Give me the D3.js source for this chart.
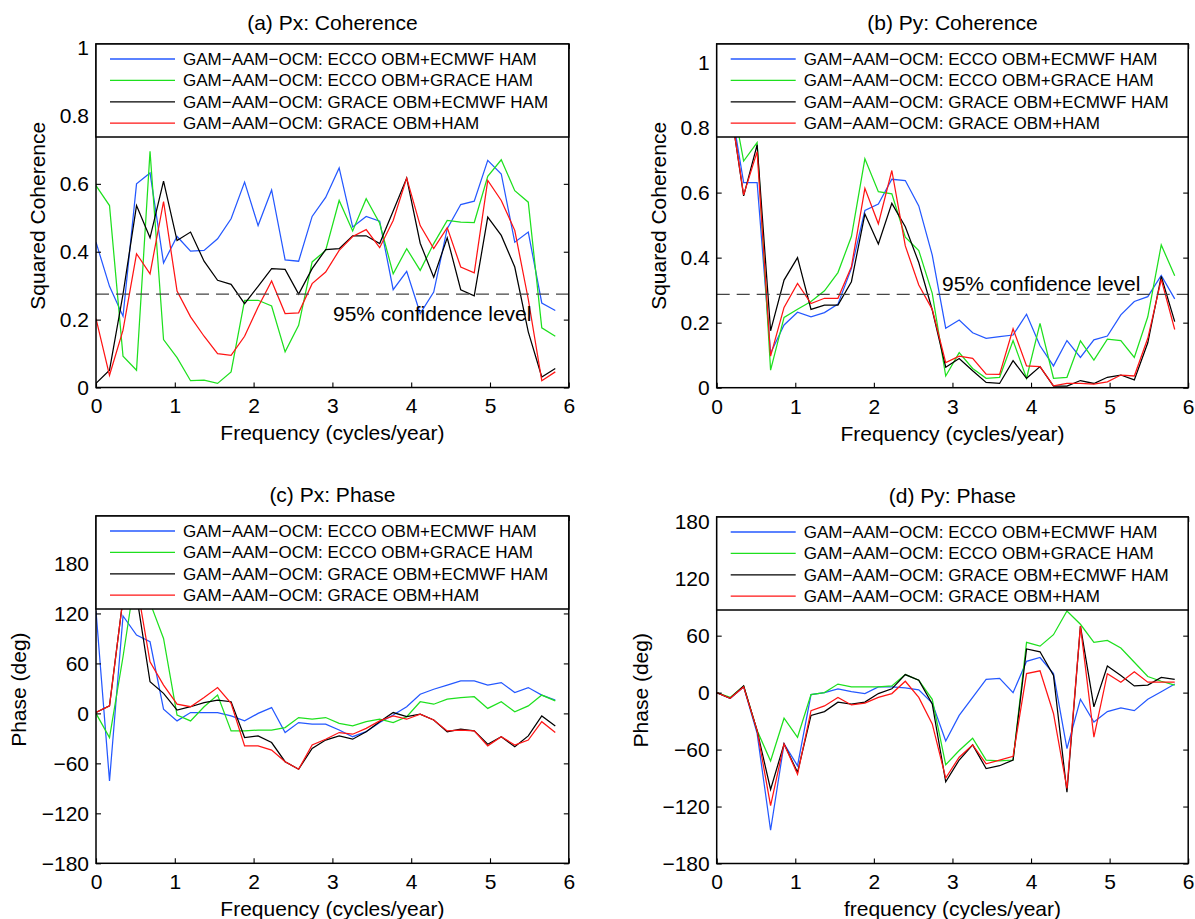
<!DOCTYPE html>
<html>
<head>
<meta charset="utf-8">
<script src="https://cdn.jsdelivr.net/npm/d3@7"></script>
<style>
  body { margin: 0; background: #fff; }
  svg { display: block; font-family: "Liberation Sans", Arial, Helvetica, sans-serif; }
</style>
</head>
<body>
<svg id="chart" width="1195" height="919"></svg>
<script>
// frequency axis (cycles/year), shared by all four panels
var freq = [0, 0.1714, 0.3429, 0.5143, 0.6857, 0.8571, 1.0286, 1.2, 1.3714, 1.5429,
            1.7143, 1.8857, 2.0571, 2.2286, 2.4, 2.5714, 2.7429, 2.9143, 3.0857, 3.2571,
            3.4286, 3.6, 3.7714, 3.9429, 4.1143, 4.2857, 4.4571, 4.6286, 4.8, 4.9714,
            5.1429, 5.3143, 5.4857, 5.6571, 5.8286];

var seriesNames = [
  "GAM\u2212AAM\u2212OCM: ECCO OBM+ECMWF HAM",
  "GAM\u2212AAM\u2212OCM: ECCO OBM+GRACE HAM",
  "GAM\u2212AAM\u2212OCM: GRACE OBM+ECMWF HAM",
  "GAM\u2212AAM\u2212OCM: GRACE OBM+HAM"
];
var seriesColors = ["#2458ff", "#1ee01e", "#000000", "#ff1414"];

// (a) Px coherence
var pxCohBlue  = [0.428,0.298,0.21,0.60,0.632,0.367,0.445,0.402,0.404,0.438,0.497,0.605,0.477,0.582,0.376,0.372,0.504,0.56,
                  0.647,0.473,0.504,0.49,0.288,0.342,0.218,0.281,0.468,0.539,0.549,0.669,0.629,0.428,0.458,0.249,0.227];
var pxCohGreen = [0.595,0.536,0.092,0.051,0.696,0.141,0.088,0.02,0.022,0.012,0.046,0.257,0.257,0.24,0.105,0.183,0.37,0.404,
                  0.551,0.461,0.556,0.484,0.335,0.409,0.345,0.424,0.492,0.487,0.486,0.622,0.671,0.58,0.546,0.176,0.151];
var pxCohBlack = [0.012,0.051,0.275,0.536,0.441,0.608,0.433,0.458,0.372,0.316,0.304,0.247,0.298,0.35,0.348,0.275,0.35,0.406,
                  0.409,0.447,0.447,0.424,0.52,0.617,0.425,0.325,0.441,0.288,0.27,0.502,0.448,0.355,0.164,0.031,0.056];
var pxCohRed   = [0.203,0.036,0.169,0.394,0.335,0.548,0.284,0.208,0.151,0.1,0.095,0.151,0.237,0.314,0.218,0.22,0.306,0.34,
                  0.404,0.445,0.465,0.412,0.492,0.617,0.477,0.409,0.471,0.355,0.338,0.61,0.551,0.463,0.26,0.02,0.046];

// (b) Py coherence
var pyCohBlue  = [0.93,0.88,0.631,0.631,0.106,0.193,0.232,0.218,0.231,0.257,0.367,0.545,0.565,0.641,0.637,0.559,0.408,0.183,
                  0.208,0.169,0.152,0.157,0.162,0.226,0.129,0.067,0.145,0.093,0.147,0.159,0.224,0.265,0.28,0.345,0.273];
var pyCohGreen = [0.95,0.92,0.697,0.754,0.054,0.216,0.241,0.265,0.298,0.354,0.465,0.704,0.603,0.596,0.463,0.422,0.29,0.036,
                  0.108,0.059,0.029,0.032,0.145,0.029,0.198,0.029,0.032,0.144,0.085,0.149,0.145,0.093,0.218,0.439,0.344];
var pyCohBlack = [0.92,0.87,0.59,0.747,0.175,0.331,0.40,0.241,0.254,0.254,0.326,0.534,0.442,0.567,0.495,0.385,0.239,0.063,
                  0.09,0.052,0.016,0.013,0.083,0.029,0.065,0.005,0.005,0.022,0.013,0.032,0.039,0.024,0.138,0.342,0.203];
var pyCohRed   = [0.92,0.87,0.593,0.726,0.097,0.247,0.321,0.259,0.275,0.275,0.372,0.613,0.504,0.668,0.436,0.316,0.241,0.077,
                  0.097,0.09,0.042,0.041,0.181,0.067,0.065,0.006,0.013,0.013,0.011,0.018,0.039,0.036,0.152,0.333,0.179];

// (c) Px phase (deg)
var pxPhBlue  = [123,-81,117,94,86,5,-9,1,1,1,-3,-9,0,7,-23,-11,-13,-13,-20,-28,-22,-11,-2,8,23,29,34,39,39,34,37,25,31,22,16];
var pxPhGreen = [0,-29,68,175,133,90,-2,-9,8,22,-21,-21,-20,-20,-17,-5,-7,-5,-12,-15,-10,-7,-11,-4,14,11,17,19,20,6,14,2,9,22,15];
var pxPhBlack = [1,9,138,142,38,24,4,8,13,16,14,-29,-27,-35,-58,-67,-42,-32,-27,-31,-22,-10,1,-4,-1,-8,-22,-19,-21,-37,-28,-40,-27,-3,-15];
var pxPhRed   = [1,9,138,157,62,34,11,8,19,31,12,-39,-39,-44,-58,-67,-38,-31,-23,-25,-18,-9,-3,-7,-1,-8,-21,-20,-21,-39,-28,-38,-32,-10,-23];

// (d) Py phase (deg)
var pyPhBlue  = [0,-6,6,-43,-145,-54,-77,-2,0,4,1,-1,6,6,5,3,-11,-51,-24,-5,14,15,0,33,37,20,-59,-7,-31,-20,-16,-19,-7,1,9];
var pyPhGreen = [0,-5,7,-40,-72,-27,-47,-2,0,9,6,6,6,7,19,13,-7,-76,-61,-48,-71,-72,-71,53,49,61,86,72,53,55,47,32,17,12,8];
var pyPhBlack = [0,-6,7,-40,-102,-54,-84,-24,-20,-10,-12,-10,-1,4,19,13,-12,-94,-71,-55,-80,-77,-71,46,43,18,-105,70,-15,28,18,7,8,16,14];
var pyPhRed   = [0,-6,6,-40,-119,-54,-86,-19,-14,-5,-13,-11,-5,-1,12,-5,-33,-90,-68,-55,-75,-71,-67,20,23,-22,-101,70,-47,20,11,22,11,11,11];

var xTicks = [0, 1, 2, 3, 4, 5, 6];
var cohTicks = [0, 0.2, 0.4, 0.6, 0.8, 1];
var phaseTicks = [-180, -120, -60, 0, 60, 120, 180];

var confLevelPx = 0.275;
var confLevelPy = 0.287;
var confLabel = "95% confidence level";

var svg = d3.select("#chart");
svg.append("rect").attr("width", 1195).attr("height", 919).attr("fill", "#fff");

var panels = [
  { id: "a", title: "(a) Px: Coherence", series: [pxCohBlue, pxCohGreen, pxCohBlack, pxCohRed],
    left: 96, right: 568.8, top: 44, bottom: 387.5, ydom: [0, 1.012], yticks: cohTicks,
    ylabel: "Squared Coherence", ylabelX: 38, xlabel: "Frequency (cycles/year)",
    conf: confLevelPx, confX: 333, confY: 320.5 },
  { id: "b", title: "(b) Py: Coherence", series: [pyCohBlue, pyCohGreen, pyCohBlack, pyCohRed],
    left: 716.7, right: 1188.2, top: 44, bottom: 387.7, ydom: [0, 1.057], yticks: cohTicks,
    ylabel: "Squared Coherence", ylabelX: 659, xlabel: "Frequency (cycles/year)",
    conf: confLevelPy, confX: 942, confY: 290.5 },
  { id: "c", title: "(c) Px: Phase", series: [pxPhBlue, pxPhGreen, pxPhBlack, pxPhRed],
    left: 96, right: 568.8, top: 516, bottom: 863.3, ydom: [-180, 237], yticks: phaseTicks,
    ylabel: "Phase (deg)", ylabelX: 19, xlabel: "Frequency (cycles/year)" },
  { id: "d", title: "(d) Py: Phase", series: [pyPhBlue, pyPhGreen, pyPhBlack, pyPhRed],
    left: 716.7, right: 1188.2, top: 517, bottom: 863.5, ydom: [-180, 185], yticks: phaseTicks,
    ylabel: "Phase (deg)", ylabelX: 641, xlabel: "frequency (cycles/year)" }
];

function fmtTick(d) {
  var s = String(+d.toFixed(1));
  return d < 0 ? "\u2212" + s.slice(1) : s;
}

panels.forEach(function(p) {
  var x = d3.scaleLinear().domain([0, 6]).range([p.left, p.right]);
  var y = d3.scaleLinear().domain(p.ydom).range([p.bottom, p.top]);
  var g = svg.append("g").attr("class", "panel-" + p.id);
  var w = p.right - p.left, h = p.bottom - p.top;

  g.append("clipPath").attr("id", "clip-" + p.id)
    .append("rect").attr("x", p.left).attr("y", p.top).attr("width", w).attr("height", h);

  var plot = g.append("g").attr("clip-path", "url(#clip-" + p.id + ")");

  // series lines
  var line = d3.line().x(function(d, i) { return x(freq[i]); }).y(function(d) { return y(d); });
  p.series.forEach(function(vals, k) {
    plot.append("path")
      .datum(vals)
      .attr("d", line)
      .attr("fill", "none")
      .attr("stroke", seriesColors[k])
      .attr("stroke-width", 1.25)
      .attr("stroke-linejoin", "miter");
  });

  // confidence level for coherence panels
  if (p.conf !== undefined) {
    plot.append("line")
      .attr("x1", x(0)).attr("x2", x(6))
      .attr("y1", y(p.conf)).attr("y2", y(p.conf))
      .attr("stroke", "#444").attr("stroke-width", 1.2)
      .attr("stroke-dasharray", "13,7");
    g.append("text")
      .attr("x", p.confX).attr("y", p.confY)
      .attr("font-size", 21).attr("fill", "#000")
      .text(confLabel);
  }

  // axes: ticks point inward, box on
  var axB = g.append("g").attr("transform", "translate(0," + p.bottom + ")")
    .call(d3.axisBottom(x).tickValues(xTicks).tickSizeInner(-5).tickSizeOuter(0).tickPadding(11)
      .tickFormat(function(d) { return String(d); }));
  var axT = g.append("g").attr("transform", "translate(0," + p.top + ")")
    .call(d3.axisTop(x).tickValues(xTicks).tickSizeInner(-5).tickSizeOuter(0).tickFormat(""));
  var axL = g.append("g").attr("transform", "translate(" + p.left + ",0)")
    .call(d3.axisLeft(y).tickValues(p.yticks).tickSizeInner(-5).tickSizeOuter(0).tickPadding(7)
      .tickFormat(fmtTick));
  var axR = g.append("g").attr("transform", "translate(" + p.right + ",0)")
    .call(d3.axisRight(y).tickValues(p.yticks).tickSizeInner(-5).tickSizeOuter(0).tickFormat(""));
  [axB, axT, axL, axR].forEach(function(a) {
    a.select(".domain").remove();
    a.selectAll(".tick line").attr("stroke", "#000").attr("stroke-width", 1.1);
    a.selectAll(".tick text").attr("font-size", 21).attr("fill", "#000")
      .attr("font-family", "\"Liberation Sans\", Arial, sans-serif");
  });

  g.append("rect")
    .attr("x", p.left).attr("y", p.top).attr("width", w).attr("height", h)
    .attr("fill", "none").attr("stroke", "#000").attr("stroke-width", 1.5);

  // legend across the top of the axes
  var lg = g.append("g").attr("transform", "translate(" + p.left + "," + p.top + ")");
  lg.append("rect").attr("width", w).attr("height", 93)
    .attr("fill", "#fff").attr("stroke", "#000").attr("stroke-width", 1.5);
  seriesNames.forEach(function(name, k) {
    var ry = 15 + k * 21.4;
    lg.append("line").attr("x1", 14).attr("x2", 79).attr("y1", ry).attr("y2", ry)
      .attr("stroke", seriesColors[k]).attr("stroke-width", 1.3);
    lg.append("text").attr("x", 87).attr("y", ry).attr("dy", "0.35em")
      .attr("font-size", 17).attr("fill", "#000").text(name);
  });

  // title and axis labels
  var cx = (p.left + p.right) / 2;
  g.append("text").attr("x", cx).attr("y", p.top - 21).attr("dy", "0.35em")
    .attr("text-anchor", "middle").attr("font-size", 21).text(p.title);
  g.append("text").attr("x", cx).attr("y", p.bottom + 45.5).attr("dy", "0.35em")
    .attr("text-anchor", "middle").attr("font-size", 21).text(p.xlabel);
  g.append("text")
    .attr("transform", "translate(" + p.ylabelX + "," + ((p.top + p.bottom) / 2) + ") rotate(-90)")
    .attr("dy", "0.35em").attr("text-anchor", "middle").attr("font-size", 21).text(p.ylabel);
});
</script>
</body>
</html>
